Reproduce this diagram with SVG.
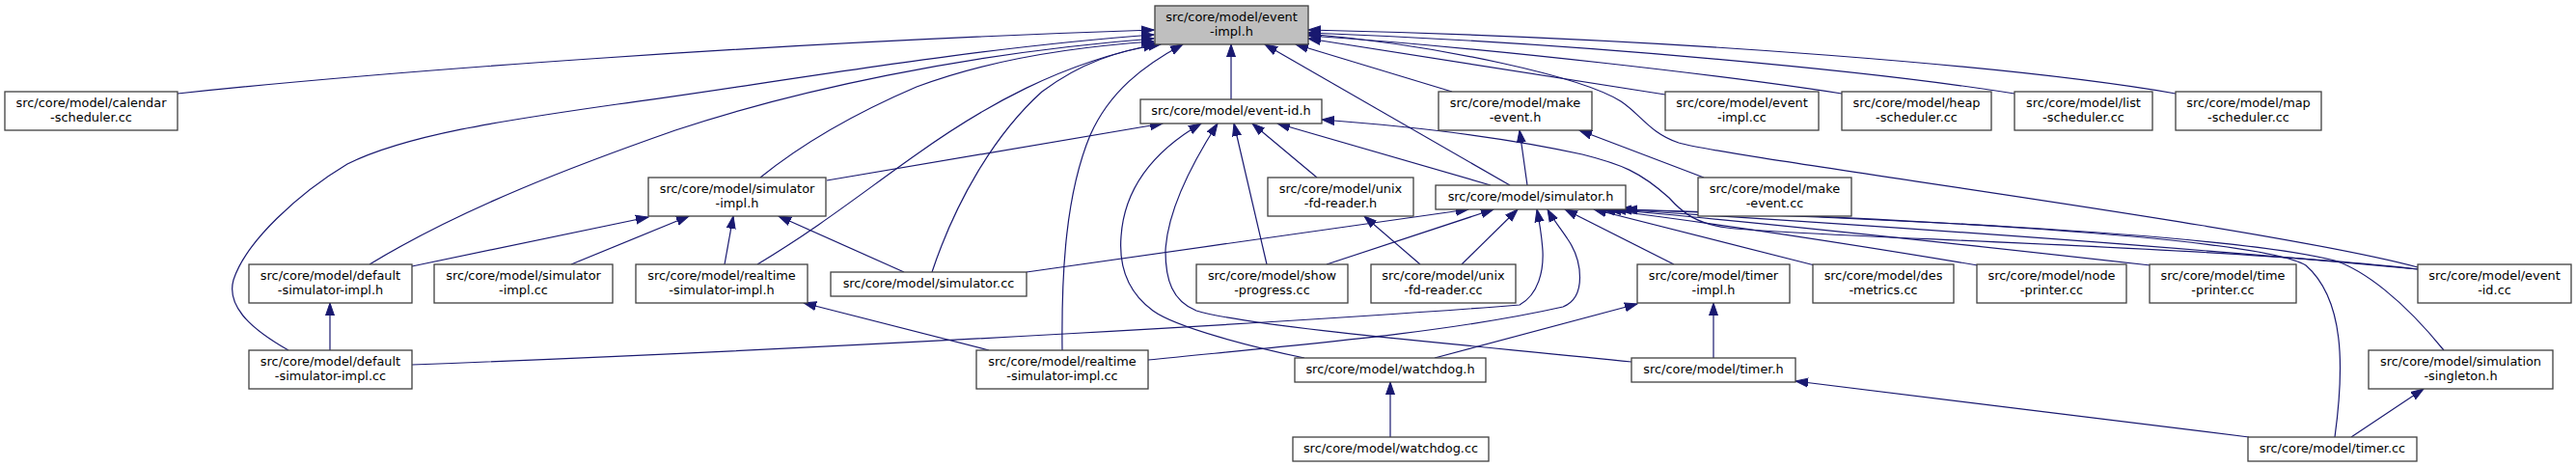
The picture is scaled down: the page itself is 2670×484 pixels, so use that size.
<svg xmlns="http://www.w3.org/2000/svg" width="2670" height="484" viewBox="0 0 2670 484">
<style>
.n rect{fill:#ffffff;stroke:#404040;stroke-width:1.3}
.n.root rect{fill:#bfbfbf;stroke:#404040}
.n text{font-family:"DejaVu Sans",sans-serif;font-size:12.9px;fill:#000;text-anchor:middle}
.e path{fill:none;stroke:#191970;stroke-width:1.2;marker-end:url(#ah)}
</style>
<defs>
<marker id="ah" markerUnits="userSpaceOnUse" markerWidth="14" markerHeight="11" viewBox="0 0 14 11" refX="13" refY="5.5" orient="auto">
<path d="M0,1 L13,5.5 L0,10 z" fill="#191970" stroke="#191970" stroke-width="1"/>
</marker>
</defs>
<rect width="2670" height="484" fill="#ffffff"/>
<g id="connectors" class="e">
<path d="M184,97 C400,74 800,44 1196,31"/>
<path d="M299,363 C255,338 235,315 242,290 C255,250 310,200 360,170 C420,140 520,125 640,108 C790,88 1000,50 1196,36"/>
<path d="M383,274 C480,215 600,170 700,135 C820,95 1000,55 1196,40"/>
<path d="M788,184 C830,150 880,120 950,90 C1030,60 1120,48 1196,43"/>
<path d="M785,274 C850,235 900,195 950,160 C1020,110 1100,65 1198,46"/>
<path d="M966,282 C990,210 1030,140 1080,95 C1120,65 1160,52 1203,46"/>
<path d="M1101,363 C1100,280 1105,200 1130,140 C1150,95 1185,68 1226,46"/>
<path d="M1276,103 L1276,46"/>
<path d="M1505,95 L1343,46"/>
<path d="M1565,192 L1311,46"/>
<path d="M1726,98 L1356,40"/>
<path d="M1909,97 C1800,80 1550,50 1356,37"/>
<path d="M2088,97 C1950,75 1650,45 1356,34"/>
<path d="M2255,97 C2100,70 1750,40 1356,31"/>
<path d="M2506,277 C2350,235 1800,165 1740,148 C1710,138 1700,118 1680,105 C1640,80 1500,48 1356,35"/>
<path d="M857,187 L1205,128"/>
<path d="M1352,371 C1300,360 1220,340 1195,322 C1165,300 1160,270 1162,245 C1165,200 1190,160 1245,128"/>
<path d="M1691,375 C1550,360 1300,340 1240,322 C1215,312 1208,290 1208,260 C1210,220 1235,170 1262,128"/>
<path d="M1313,274 L1279,128"/>
<path d="M1365,184 L1298,128"/>
<path d="M1545,192 L1324,128"/>
<path d="M2506,279 C2300,255 1850,245 1790,236 C1760,232 1745,222 1730,205 C1700,178 1680,170 1640,160 C1550,140 1450,130 1370,124"/>
<path d="M1583,192 L1575,135"/>
<path d="M1766,184 L1637,135"/>
<path d="M427,276 L672,225"/>
<path d="M592,274 L714,224"/>
<path d="M751,274 L760,224"/>
<path d="M937,282 L807,224"/>
<path d="M1064,282 L1522,217"/>
<path d="M1375,274 L1548,217"/>
<path d="M1515,274 L1573,217"/>
<path d="M1472,274 L1414,224"/>
<path d="M427,378 C900,360 1400,330 1575,316 C1595,305 1600,280 1599,260 C1598,245 1596,232 1593,217"/>
<path d="M1190,373 C1350,357 1500,345 1620,318 C1645,308 1640,270 1625,248 C1618,237 1610,228 1604,217"/>
<path d="M1735,274 L1622,217"/>
<path d="M1881,275 L1652,217"/>
<path d="M2050,275 C1900,250 1750,228 1661,217"/>
<path d="M2229,275 C2050,255 1800,228 1667,217"/>
<path d="M2506,279 C2200,250 1850,228 1672,217"/>
<path d="M2533,363 C2490,310 2450,280 2420,270 C2300,240 1900,225 1678,217"/>
<path d="M2420,453 C2430,380 2430,310 2390,275 C2340,245 1950,225 1684,217"/>
<path d="M1776,371 L1776,314"/>
<path d="M1487,371 L1697,315"/>
<path d="M1441,453 L1441,396"/>
<path d="M2331,453 L1861,395"/>
<path d="M2437,453 L2512,403"/>
<path d="M1025,363 L833,314"/>
<path d="M342,363 L342,314"/>
</g>
<g id="n_event_impl_h" class="n root"><rect x="1197" y="6" width="159" height="40"/><text x="1276.5" y="21.5">src/core/model/event</text><text x="1276.5" y="36.5">-impl.h</text></g>
<g id="n_calendar_scheduler_cc" class="n"><rect x="5" y="95" width="179" height="40"/><text x="94.5" y="110.5">src/core/model/calendar</text><text x="94.5" y="125.5">-scheduler.cc</text></g>
<g id="n_event_id_h" class="n"><rect x="1182" y="103" width="188" height="25"/><text x="1276" y="119">src/core/model/event-id.h</text></g>
<g id="n_make_event_h" class="n"><rect x="1491" y="95" width="159" height="40"/><text x="1570.5" y="110.5">src/core/model/make</text><text x="1570.5" y="125.5">-event.h</text></g>
<g id="n_event_impl_cc" class="n"><rect x="1726" y="95" width="159" height="40"/><text x="1805.5" y="110.5">src/core/model/event</text><text x="1805.5" y="125.5">-impl.cc</text></g>
<g id="n_heap_scheduler_cc" class="n"><rect x="1909" y="95" width="155" height="40"/><text x="1986.5" y="110.5">src/core/model/heap</text><text x="1986.5" y="125.5">-scheduler.cc</text></g>
<g id="n_list_scheduler_cc" class="n"><rect x="2088" y="95" width="143" height="40"/><text x="2159.5" y="110.5">src/core/model/list</text><text x="2159.5" y="125.5">-scheduler.cc</text></g>
<g id="n_map_scheduler_cc" class="n"><rect x="2255" y="95" width="151" height="40"/><text x="2330.5" y="110.5">src/core/model/map</text><text x="2330.5" y="125.5">-scheduler.cc</text></g>
<g id="n_simulator_impl_h" class="n"><rect x="672" y="184" width="184" height="40"/><text x="764" y="199.5">src/core/model/simulator</text><text x="764" y="214.5">-impl.h</text></g>
<g id="n_unix_fd_reader_h" class="n"><rect x="1314" y="184" width="151" height="40"/><text x="1389.5" y="199.5">src/core/model/unix</text><text x="1389.5" y="214.5">-fd-reader.h</text></g>
<g id="n_simulator_h" class="n"><rect x="1488" y="192" width="197" height="25"/><text x="1586.5" y="208">src/core/model/simulator.h</text></g>
<g id="n_make_event_cc" class="n"><rect x="1760" y="184" width="159" height="40"/><text x="1839.5" y="199.5">src/core/model/make</text><text x="1839.5" y="214.5">-event.cc</text></g>
<g id="n_default_simulator_impl_h" class="n"><rect x="258" y="274" width="169" height="40"/><text x="342.5" y="289.5">src/core/model/default</text><text x="342.5" y="304.5">-simulator-impl.h</text></g>
<g id="n_simulator_impl_cc" class="n"><rect x="450" y="274" width="185" height="40"/><text x="542.5" y="289.5">src/core/model/simulator</text><text x="542.5" y="304.5">-impl.cc</text></g>
<g id="n_realtime_simulator_impl_h" class="n"><rect x="659" y="274" width="178" height="40"/><text x="748" y="289.5">src/core/model/realtime</text><text x="748" y="304.5">-simulator-impl.h</text></g>
<g id="n_simulator_cc" class="n"><rect x="861" y="282" width="203" height="25"/><text x="962.5" y="298">src/core/model/simulator.cc</text></g>
<g id="n_show_progress_cc" class="n"><rect x="1240" y="274" width="157" height="40"/><text x="1318.5" y="289.5">src/core/model/show</text><text x="1318.5" y="304.5">-progress.cc</text></g>
<g id="n_unix_fd_reader_cc" class="n"><rect x="1421" y="274" width="150" height="40"/><text x="1496" y="289.5">src/core/model/unix</text><text x="1496" y="304.5">-fd-reader.cc</text></g>
<g id="n_timer_impl_h" class="n"><rect x="1697" y="274" width="158" height="40"/><text x="1776" y="289.5">src/core/model/timer</text><text x="1776" y="304.5">-impl.h</text></g>
<g id="n_des_metrics_cc" class="n"><rect x="1879" y="274" width="146" height="40"/><text x="1952" y="289.5">src/core/model/des</text><text x="1952" y="304.5">-metrics.cc</text></g>
<g id="n_node_printer_cc" class="n"><rect x="2049" y="274" width="155" height="40"/><text x="2126.5" y="289.5">src/core/model/node</text><text x="2126.5" y="304.5">-printer.cc</text></g>
<g id="n_time_printer_cc" class="n"><rect x="2228" y="274" width="152" height="40"/><text x="2304" y="289.5">src/core/model/time</text><text x="2304" y="304.5">-printer.cc</text></g>
<g id="n_event_id_cc" class="n"><rect x="2506" y="274" width="159" height="40"/><text x="2585.5" y="289.5">src/core/model/event</text><text x="2585.5" y="304.5">-id.cc</text></g>
<g id="n_default_simulator_impl_cc" class="n"><rect x="258" y="363" width="169" height="40"/><text x="342.5" y="378.5">src/core/model/default</text><text x="342.5" y="393.5">-simulator-impl.cc</text></g>
<g id="n_realtime_simulator_impl_cc" class="n"><rect x="1012" y="363" width="178" height="40"/><text x="1101" y="378.5">src/core/model/realtime</text><text x="1101" y="393.5">-simulator-impl.cc</text></g>
<g id="n_watchdog_h" class="n"><rect x="1342" y="371" width="198" height="25"/><text x="1441" y="387">src/core/model/watchdog.h</text></g>
<g id="n_timer_h" class="n"><rect x="1691" y="371" width="170" height="25"/><text x="1776" y="387">src/core/model/timer.h</text></g>
<g id="n_simulation_singleton_h" class="n"><rect x="2455" y="363" width="191" height="40"/><text x="2550.5" y="378.5">src/core/model/simulation</text><text x="2550.5" y="393.5">-singleton.h</text></g>
<g id="n_watchdog_cc" class="n"><rect x="1340" y="453" width="203" height="25"/><text x="1441.5" y="469">src/core/model/watchdog.cc</text></g>
<g id="n_timer_cc" class="n"><rect x="2330" y="453" width="175" height="25"/><text x="2417.5" y="469">src/core/model/timer.cc</text></g>
</svg>
